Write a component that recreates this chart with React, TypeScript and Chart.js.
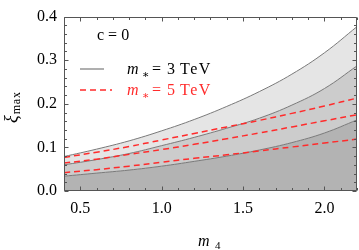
import { useEffect, useRef } from 'react';
import { Chart, registerables } from 'chart.js';

Chart.register(...registerables);

// m_4 sample positions
const M4 = [0.4, 0.6, 0.8, 1.0, 1.2, 1.4, 1.6, 1.8, 2.0, 2.2];

// m_* = 3 TeV (gray solid, shaded bands)
const GRAY_TOP = [0.079, 0.096, 0.115, 0.138, 0.164, 0.194, 0.228, 0.268, 0.317, 0.377];
const GRAY_MID = [0.060, 0.072, 0.086, 0.104, 0.123, 0.144, 0.167, 0.197, 0.235, 0.287];
const GRAY_BOT = [0.034, 0.041, 0.048, 0.057, 0.068, 0.080, 0.094, 0.111, 0.133, 0.163];

// m_* = 5 TeV (red dashed)
const RED_TOP = [0.077, 0.089, 0.102, 0.117, 0.132, 0.147, 0.162, 0.178, 0.195, 0.213];
const RED_MID = [0.064, 0.073, 0.084, 0.095, 0.107, 0.120, 0.133, 0.147, 0.161, 0.175];
const RED_BOT = [0.042, 0.049, 0.057, 0.066, 0.075, 0.083, 0.092, 0.101, 0.110, 0.119];

const X_TICKS = [0.5, 1.0, 1.5, 2.0];
const X_MINOR = [0.4, 0.6, 0.7, 0.8, 0.9, 1.1, 1.2, 1.3, 1.4, 1.6, 1.7, 1.8, 1.9, 2.1, 2.2];
const Y_TICKS = [0.0, 0.1, 0.2, 0.3, 0.4];
const Y_MINOR = [0.02, 0.04, 0.06, 0.08, 0.12, 0.14, 0.16, 0.18, 0.22, 0.24, 0.26, 0.28, 0.32, 0.34, 0.36, 0.38];

const SERIF = '"Liberation Serif", "DejaVu Serif", serif';
const RED = '#ff2b2b';
const LINE_GRAY = '#7a7a7a';

const pts = (ys: number[]) => ys.map((y, i) => ({ x: M4[i], y }));

const framePlugin = {
  id: 'frameTicks',
  afterDraw(chart: any) {
    const { ctx, chartArea: a, scales } = chart;
    const xs = scales.x;
    const ys = scales.y;
    ctx.save();
    ctx.strokeStyle = '#555555';
    ctx.lineWidth = 1;
    ctx.beginPath();
    const L = Math.round(a.left) + 0.5;
    const R = Math.round(a.right) - 0.5;
    const T = Math.round(a.top) + 0.5;
    const B = Math.round(a.bottom) - 0.5;
    ctx.rect(L, T, R - L, B - T);
    const xt = (v: number, len: number) => {
      const px = Math.round(xs.getPixelForValue(v)) + 0.5;
      ctx.moveTo(px, B); ctx.lineTo(px, B - len);
      ctx.moveTo(px, T); ctx.lineTo(px, T + len);
    };
    const yt = (v: number, len: number) => {
      const py = Math.round(ys.getPixelForValue(v)) + 0.5;
      ctx.moveTo(L, py); ctx.lineTo(L + len, py);
      ctx.moveTo(R, py); ctx.lineTo(R - len, py);
    };
    X_TICKS.forEach((v) => xt(v, 4));
    X_MINOR.forEach((v) => xt(v, 2.5));
    Y_TICKS.forEach((v) => yt(v, 4));
    Y_MINOR.forEach((v) => yt(v, 2.5));
    ctx.stroke();

    // annotation / legend
    ctx.fillStyle = '#000';
    ctx.textBaseline = 'alphabetic';
    ctx.font = `16px ${SERIF}`;
    ctx.fillText('c = 0', 97, 40);

    const legendRow = (y: number, color: string, dashed: boolean) => {
      ctx.save();
      ctx.strokeStyle = color;
      ctx.lineWidth = dashed ? 1.5 : 1.2;
      ctx.setLineDash(dashed ? [6, 4] : []);
      ctx.beginPath();
      ctx.moveTo(80, y);
      ctx.lineTo(dashed ? 112 : 104, y);
      ctx.stroke();
      ctx.restore();
      ctx.fillStyle = dashed ? RED : '#000';
      ctx.font = `italic 16px ${SERIF}`;
      ctx.fillText('m', 127, y + 5);
      ctx.font = `11px ${SERIF}`;
      ctx.fillText('\u2217', 142, y + 9);
      ctx.font = `16px ${SERIF}`;
      ctx.fillText('=', 152, y + 5);
      ctx.fillText(dashed ? '5' : '3', 167, y + 5);
      (ctx as any).letterSpacing = '1.5px';
      ctx.fillText('TeV', 180, y + 5);
      (ctx as any).letterSpacing = '0px';
    };
    legendRow(69, LINE_GRAY, false);
    legendRow(90, RED, true);

    // axis titles
    ctx.fillStyle = '#000';
    ctx.font = `italic 16px ${SERIF}`;
    ctx.fillText('m', 198, 246);
    ctx.font = `11px ${SERIF}`;
    ctx.fillText('4', 215, 249);

    ctx.save();
    ctx.translate(17, 123);
    ctx.rotate(-Math.PI / 2);
    ctx.font = `italic 18px ${SERIF}`;
    ctx.fillText('\u03be', 0, 0);
    const w = ctx.measureText('\u03be').width;
    ctx.font = `12px ${SERIF}`;
    (ctx as any).letterSpacing = '0.8px';
    ctx.fillText('max', w + 1, 3);
    (ctx as any).letterSpacing = '0px';
    ctx.restore();

    ctx.restore();
  },
};

export default function App() {
  const ref = useRef<HTMLCanvasElement | null>(null);

  useEffect(() => {
    if (!ref.current) return;
    const common = { pointRadius: 0, tension: 0.4 };
    const chart = new Chart(ref.current, {
      type: 'line',
      data: {
        datasets: [
          { ...common, data: pts(RED_TOP), borderColor: RED, borderWidth: 1.5, borderDash: [6, 4], fill: false },
          { ...common, data: pts(RED_MID), borderColor: RED, borderWidth: 1.5, borderDash: [6, 4], fill: false },
          { ...common, data: pts(RED_BOT), borderColor: RED, borderWidth: 1.5, borderDash: [6, 4], fill: false },
          { ...common, data: pts(GRAY_BOT), borderColor: LINE_GRAY, borderWidth: 1, backgroundColor: '#b3b3b3', fill: 'origin' },
          { ...common, data: pts(GRAY_MID), borderColor: LINE_GRAY, borderWidth: 1, backgroundColor: '#cccccc', fill: 3 },
          { ...common, data: pts(GRAY_TOP), borderColor: LINE_GRAY, borderWidth: 1, backgroundColor: '#e5e5e5', fill: 4 },
        ],
      } as any,
      options: {
        animation: false,
        responsive: true,
        maintainAspectRatio: false,
        layout: { padding: { top: 10, right: 2, left: 0, bottom: 0 } },
        plugins: { legend: { display: false }, tooltip: { enabled: false } },
        scales: {
          x: {
            type: 'linear',
            min: 0.4,
            max: 2.2,
            grid: { display: false, drawTicks: false },
            border: { display: false },
            afterBuildTicks: (s: any) => { s.ticks = X_TICKS.map((v) => ({ value: v })); },
            afterFit: (s: any) => { s.height = 59; },
            ticks: {
              padding: 8,
              color: '#000',
              font: { family: SERIF, size: 16 },
              callback: (v: any) => Number(v).toFixed(1),
              maxRotation: 0,
            },
          },
          y: {
            type: 'linear',
            min: 0,
            max: 0.4,
            grid: { display: false, drawTicks: false },
            border: { display: false },
            afterBuildTicks: (s: any) => { s.ticks = Y_TICKS.map((v) => ({ value: v })); },
            afterFit: (s: any) => { s.width = 64; },
            ticks: {
              padding: 7,
              color: '#000',
              font: { family: SERIF, size: 16 },
              callback: (v: any) => Number(v).toFixed(1),
            },
          },
        },
      } as any,
      plugins: [framePlugin],
    });
    return () => chart.destroy();
  }, []);

  return (
    <div style={{ position: 'fixed', left: 0, top: 0, width: 359, height: 250, background: '#fff' }}>
      <canvas ref={ref} />
    </div>
  );
}
